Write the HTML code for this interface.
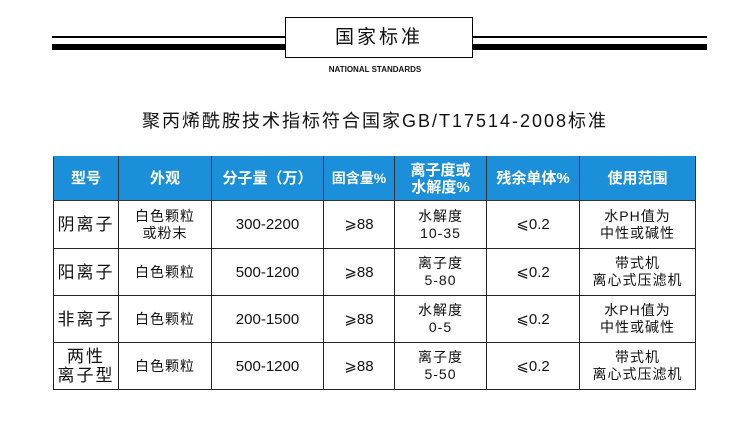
<!DOCTYPE html>
<html><head><meta charset="utf-8"><style>
body{margin:0;width:750px;height:431px;background:#fff;position:relative;overflow:hidden;font-family:"Liberation Sans","Noto Sans CJK SC",sans-serif;color:#111}
.a{position:absolute}
table{position:absolute;left:53px;top:156px;border-collapse:collapse;table-layout:fixed}
td{border:1px solid #222;text-align:center;padding:0;font-size:14px;line-height:17px;letter-spacing:1px}
tr.h td{background:#1b8fd9;color:#fff;font-weight:bold;font-size:15px;height:43px;border-color:#1b8fd9 #333 #333 #333;letter-spacing:0}
tr.r td{height:46px}
td.n{font-size:15px;letter-spacing:0}
td.t{font-size:17px;letter-spacing:2px}
</style></head><body>
<div class="a" style="left:52px;top:36px;width:655px;height:2px;background:#000"></div>
<div class="a" style="left:52px;top:44px;width:655px;height:6px;background:#000"></div>
<div class="a" style="left:285px;top:17px;width:186px;height:39px;background:#fff;border:1px solid #000"></div>
<div class="a" style="left:285px;top:22px;width:188px;text-align:center;font-size:19px;letter-spacing:3px">国家标准</div>
<div class="a" style="left:0;top:65px;width:750px;text-align:center;font-size:8px;font-weight:bold">NATIONAL STANDARDS</div>
<div class="a" style="left:0;top:107px;width:750px;text-align:center;font-size:18px;letter-spacing:2px">聚丙烯酰胺技术指标符合国家GB/T17514-2008标准</div>
<table>
<colgroup><col style="width:65px"><col style="width:93px"><col style="width:112px"><col style="width:71px"><col style="width:92px"><col style="width:93px"><col style="width:116px"></colgroup>
<tr class="h"><td>型号</td><td>外观</td><td>分子量（万）</td><td style="font-size:14px">固含量%</td><td>离子度或<br>水解度%</td><td>残余单体%</td><td>使用范围</td></tr>
<tr class="r" style="height:48px"><td class="t">阴离子</td><td>白色颗粒<br>或粉末</td><td class="n">300-2200</td><td class="n">⩾88</td><td>水解度<br>10-35</td><td class="n">⩽0.2</td><td>水PH值为<br>中性或碱性</td></tr>
<tr class="r"><td class="t">阳离子</td><td>白色颗粒</td><td class="n">500-1200</td><td class="n">⩾88</td><td>离子度<br>5-80</td><td class="n">⩽0.2</td><td>带式机<br>离心式压滤机</td></tr>
<tr class="r"><td class="t">非离子</td><td>白色颗粒</td><td class="n">200-1500</td><td class="n">⩾88</td><td>水解度<br>0-5</td><td class="n">⩽0.2</td><td>水PH值为<br>中性或碱性</td></tr>
<tr class="r" style="height:44px"><td class="t" style="line-height:19px">两性<br>离子型</td><td>白色颗粒</td><td class="n">500-1200</td><td class="n">⩾88</td><td>离子度<br>5-50</td><td class="n">⩽0.2</td><td>带式机<br>离心式压滤机</td></tr>
</table>
</body></html>
